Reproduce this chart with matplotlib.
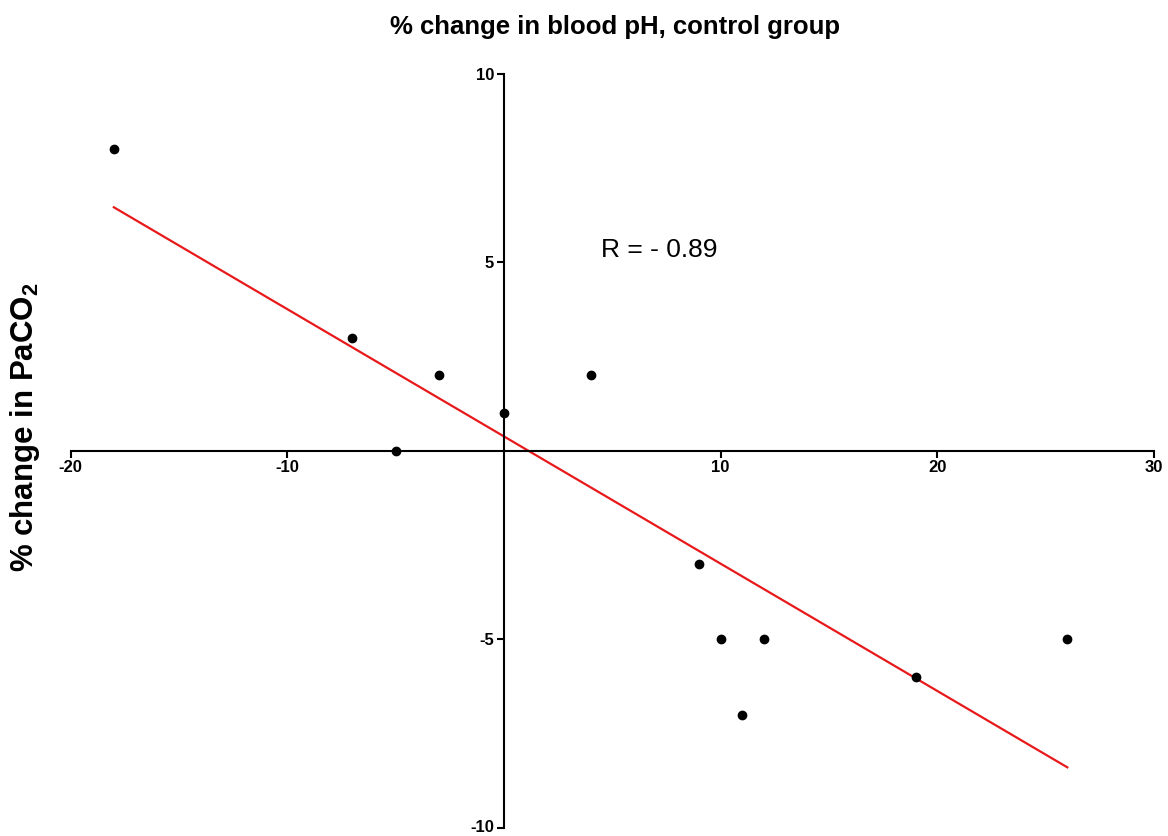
import numpy as np
import matplotlib
matplotlib.use("Agg")
import matplotlib.pyplot as plt
from matplotlib.transforms import ScaledTranslation

plt.rcParams['font.family'] = ['Liberation Sans', 'DejaVu Sans']
plt.rcParams['axes.unicode_minus'] = False
plt.rcParams['mathtext.fontset'] = 'custom'
plt.rcParams['mathtext.rm'] = 'Liberation Sans'
plt.rcParams['mathtext.bf'] = 'Liberation Sans:bold'

ph_change = [-18, -7, -3, -5, 0, 4, 9, 10, 12, 11, 19, 26]
paco2_change = [8, 3, 2, 0, 1, 2, -3, -5, -5, -7, -6, -5]
x_ticks = [-20, -10, 10, 20, 30]
y_ticks = [-10, -5, 5, 10]
title = "% change in blood pH, control group"
ylabel = "% change in PaCO$_\\mathbf{2}$"
r_text = "R = - 0.89"

fig = plt.figure(figsize=(11.68, 8.36), dpi=100)
ax = fig.add_axes([70.5/1168, 8/836, 1083.5/1168, 754.5/836])

x = np.array(ph_change, dtype=float)
y = np.array(paco2_change, dtype=float)
slope, intercept = np.polyfit(x, y, 1)
xl = np.array([x.min(), x.max()])
ax.plot(xl, slope * xl + intercept, color='#e8191b', lw=1.6, zorder=2)
ax.plot(x, y, 'o', color='black', ms=6, zorder=3, clip_on=False)

ax.set_xlim(-20, 30)
ax.set_ylim(-10, 10)
ax.spines['left'].set_position(('data', 0))
ax.spines['bottom'].set_position(('data', 0))
ax.spines['right'].set_visible(False)
ax.spines['top'].set_visible(False)
for s in ('left', 'bottom'):
    ax.spines[s].set_linewidth(1.5)
ax.set_xticks(x_ticks)
ax.set_yticks(y_ticks)
ax.tick_params(direction='out', length=5, width=1.5, labelsize=12, pad=2)
for lab in ax.get_xticklabels() + ax.get_yticklabels():
    lab.set_fontweight('bold')
# lowest y tick label: baseline just below the tick, kept inside the canvas
low = ax.get_yticklabels()[0]
low.set_va('baseline')
low.set_transform(low.get_transform() + ScaledTranslation(0, -4.5/100, fig.dpi_scale_trans))

ax.text(4.5, 5.33, r_text, fontsize=19, va='center', ha='left')

fig.text(615/1168, 1 - 27/836, title, fontsize=18.5, fontweight='bold', ha='center', va='center')
fig.text(25/1168, 1 - 427/836, ylabel, fontsize=22.5, fontweight='bold', rotation=90, ha='center', va='center')

fig.savefig("out.png", dpi=100)
